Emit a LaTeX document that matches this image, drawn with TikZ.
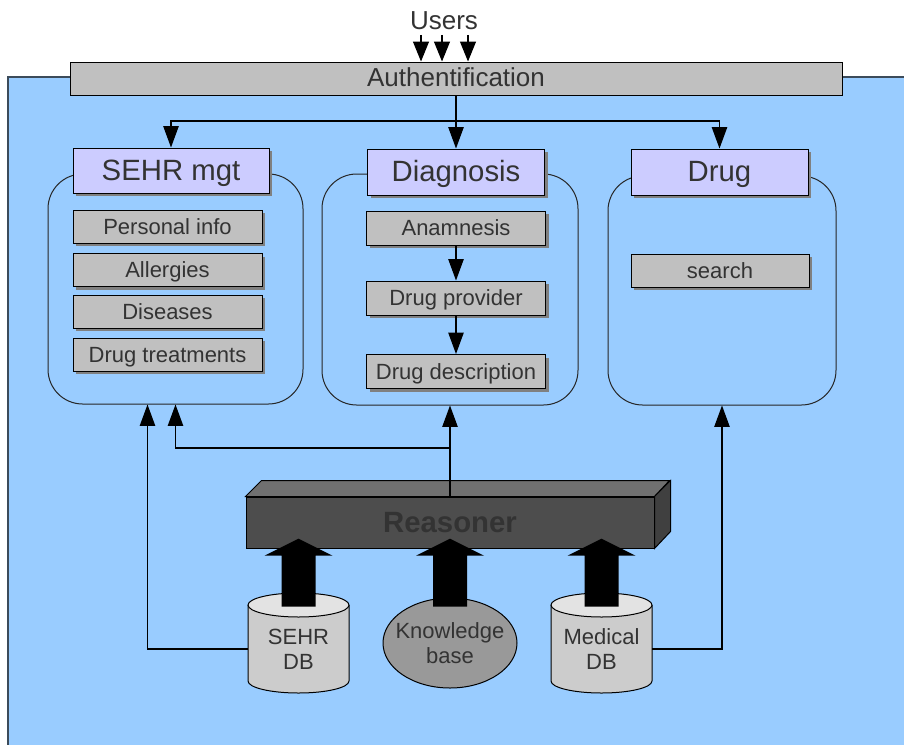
\documentclass[tikz,border=0pt]{standalone}
\usepackage{fontspec}
\setmainfont{Liberation Sans}
\usetikzlibrary{arrows.meta}
\usetikzlibrary{calc}
\usetikzlibrary{shapes.geometric, shadows}

\definecolor{bgblue}{HTML}{99CCFF}
\definecolor{boxgray}{HTML}{C0C0C0}
\definecolor{headblue}{HTML}{CCCCFF}
\definecolor{shadowgray}{HTML}{808080}
\definecolor{txtgray}{HTML}{333333}
\definecolor{framegray}{HTML}{3C4B5A}
\definecolor{rfront}{HTML}{4D4D4D}
\definecolor{rtop}{HTML}{707070}
\definecolor{rside}{HTML}{404040}
\definecolor{dbbody}{HTML}{CCCCCC}
\definecolor{dbtop}{HTML}{E3E3E3}
\definecolor{kbgray}{HTML}{999999}

\tikzset{
  conn/.style={line width=0.9pt, -{Triangle[length=16pt,width=11.5pt]}},
  boxshadow/.style={drop shadow={shadow xshift=2.5pt, shadow yshift=-2.5pt, fill=shadowgray, opacity=1}},
  bar/.style={draw, fill=boxgray, line width=0.75pt, inner sep=0pt, text=txtgray,
    text height=12pt, text depth=0pt, font=\fontsize{19.5}{22}\selectfont},
  head/.style={draw, fill=headblue, boxshadow, line width=0.75pt, inner sep=0pt,
    minimum width=132.75pt, minimum height=34.5pt, text height=14.6pt, text depth=0pt,
    text=txtgray, font=\fontsize{22}{26}\selectfont},
  item/.style={draw, fill=boxgray, boxshadow, line width=0.75pt, inner sep=0pt,
    minimum height=24.75pt, text height=11.6pt, text depth=0pt,
    text=txtgray, font=\fontsize{16.5}{19}\selectfont},
  group/.style={draw=black!85, rounded corners=26pt, line width=0.75pt, inner sep=0pt},
  dbtext/.style={align=center, inner sep=0pt, minimum width=75.75pt, minimum height=63pt,
    text=txtgray, font=\fontsize{16.5}{18.5}\selectfont}
}

\begin{document}
\begin{tikzpicture}[x=0.75pt, y=-0.75pt]
  \useasboundingbox (0,0) rectangle (904,744);
  \filldraw[fill=bgblue, draw=framegray, line width=1.2pt] (8,77) rectangle (912,752);

  % top
  \node[text=txtgray, font=\fontsize{19.5}{22}\selectfont] (users) at (444,21) {Users};
  \node[bar, minimum width=579pt, minimum height=24.75pt] (auth) at (456,78.5) {Authentification};
  \draw[conn, -{Triangle[length=15pt,width=12pt]}] (users.south -| 421,0) -- (auth.north -| 421,0);
  \draw[conn, -{Triangle[length=15pt,width=12pt]}] (users.south -| 442,0) -- (auth.north -| 442,0);
  \draw[conn, -{Triangle[length=15pt,width=12pt]}] (users.south -| 468,0) -- (auth.north -| 468,0);

  % the three modules
  \node[group, minimum width=191.25pt, minimum height=172.5pt] (sehrbox) at (175.5,289) {};
  \node[group, minimum width=192pt, minimum height=173.25pt] (diagbox) at (450,289.5) {};
  \node[group, minimum width=171pt, minimum height=171.75pt] (drugbox) at (722,290.5) {};

  \node[head, minimum width=147pt, minimum height=33.75pt] (sehr) at (171,170.5) {SEHR mgt};
  \node[head] (diag) at (456,172) {Diagnosis};
  \node[head] (drug) at (719.5,172) {Drug};

  \node[item, minimum width=141.75pt] (pinfo) at (167.5,226.5) {Personal info};
  \node[item, minimum width=141.75pt] (allerg) at (167.5,270) {Allergies};
  \node[item, minimum width=141.75pt] (dis) at (167.5,311.5) {Diseases};
  \node[item, minimum width=141.75pt] (dtreat) at (167.5,354.5) {Drug treatments};

  \node[item, minimum width=134.25pt, minimum height=25.5pt] (anam) at (456,228) {Anamnesis};
  \node[item, minimum width=134.25pt, minimum height=25.5pt] (dprov) at (456,298) {Drug provider};
  \node[item, minimum width=134.25pt, minimum height=25.5pt] (ddesc) at (456,371.5) {Drug description};
  \draw[conn] (anam) -- (dprov);
  \draw[conn] (dprov) -- (ddesc);

  \node[item, minimum width=133.5pt] (search) at (720,270.5) {search};

  \coordinate (split) at (456,121);
  \draw[line width=0.9pt] (auth.south) -- (split);
  \draw[conn] (split) -| (sehr.north);
  \draw[conn] (split) -- (diag.north);
  \draw[conn] (split) -| (drug.north);

  % reasoner
  \node[fill=rfront, draw, line width=0.75pt, inner sep=0pt, minimum width=306pt, minimum height=38.25pt,
    text=txtgray, font=\fontsize{22}{26}\selectfont\bfseries] (reasoner) at (450,522.5) {Reasoner};
  \filldraw[fill=rtop, line width=0.75pt] (reasoner.north west) -- ++(16,-16) -- ++(408,0) -- (reasoner.north east) -- cycle;
  \filldraw[fill=rside, line width=0.75pt] (reasoner.north east) -- ++(16,-16) -- ++(0,51) -- (reasoner.south east) -- cycle;

  \coordinate (rjoin) at (450,448);
  \draw[conn] (reasoner.north) -- (diagbox.south);
  \draw[conn] (rjoin) -| (sehrbox.south);

  % data sources
  \filldraw[fill=dbbody, line width=0.75pt] (248,605) -- (248,681) arc[start angle=180, end angle=0, x radius=50.5, y radius=12] -- (349,605);
  \filldraw[fill=dbtop, line width=0.75pt] (298.5,605) ellipse[x radius=50.5, y radius=12];
  \filldraw[fill=dbbody, line width=0.75pt] (551,605) -- (551,681) arc[start angle=180, end angle=0, x radius=50.5, y radius=12] -- (652,605);
  \filldraw[fill=dbtop, line width=0.75pt] (601.5,605) ellipse[x radius=50.5, y radius=12];
  \filldraw[fill=kbgray, line width=0.75pt] (450,643) ellipse[x radius=67, y radius=45];

  \node[dbtext] (sehrdb) at (298.5,649) {SEHR\\DB};
  \node[dbtext] (meddb) at (601.5,649) {Medical\\DB};
  \node[dbtext, minimum width=100.5pt, minimum height=67.5pt] (kb) at (450,643) {Knowledge\\base};

  \fill (sehrdb.north) ++(-17,0) -- ++(0,-51) -- ++(-17,0) -- ++(34,-17) -- ++(34,17) -- ++(-17,0) -- ++(0,51) -- cycle;
  \fill (kb.north) ++(-17,9) -- ++(0,-51) -- ++(-17,0) -- ++(34,-17) -- ++(34,17) -- ++(-17,0) -- ++(0,51) -- cycle;
  \fill (meddb.north) ++(-17,0) -- ++(0,-51) -- ++(-17,0) -- ++(34,-17) -- ++(34,17) -- ++(-17,0) -- ++(0,51) -- cycle;

  \draw[conn] (sehrdb.west) -| ($(sehrbox.south west)+(100,0)$);
  \draw[conn] (meddb.east) -| (drugbox.south);
\end{tikzpicture}
\end{document}
